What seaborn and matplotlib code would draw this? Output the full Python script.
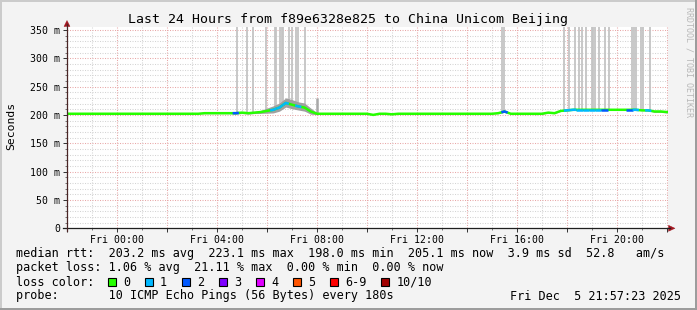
import numpy as np
import matplotlib
matplotlib.use("Agg")
import matplotlib.pyplot as plt
import seaborn as sns
from matplotlib.patches import Polygon, Rectangle
from matplotlib.lines import Line2D
from matplotlib.ticker import MultipleLocator, FixedLocator, FixedFormatter

# ---------------- data ----------------
start_hour = -2.0          # hours relative to Fri 00:00
step_hours = 0.25          # 15 min samples

median_ms = [
    202, 202, 202, 202, 202, 202, 202, 202, 202, 202, 202,   # -2.0 .. 0.5
    202, 202, 202, 202, 202, 202, 202, 202, 202, 202, 202,   # 0.75 .. 3.25
    203, 203, 203, 203, 203, 203, 204, 203, 204, 205,        # 3.5 .. 5.75
    207, 209, 213, 221, 218, 215, 213, 206, 202,             # 6.0 .. 8.0
    202, 202, 202, 202, 202, 202, 202, 202, 200, 202, 202, 201,  # 8.25 .. 11.0
    202, 202, 202, 202, 202, 202, 202, 202, 202, 202, 202, 202,  # 11.25 .. 14.0
    202, 202, 202, 202, 203, 206, 202,                       # 14.25 .. 15.75
    202, 202, 202, 202, 202, 204, 203, 207,                  # 16.0 .. 17.75
    208, 209, 209, 209, 209, 209, 209, 209, 209,             # 18.0 .. 20.0
    209, 209, 209, 208, 208, 206, 206, 205,                  # 20.25 .. 22.0
]

loss_level = [
    0, 0, 0, 0, 0, 0, 0, 0, 0, 0, 0,
    0, 0, 0, 0, 0, 0, 0, 0, 0, 0, 0,
    0, 0, 0, 0, 0, 2, 0, 0, 0, 0,
    0, 1, 1, 1, 0, 1, 0, 0, 0,
    0, 0, 0, 0, 0, 0, 0, 0, 0, 0, 0, 0,
    0, 0, 0, 0, 0, 0, 0, 0, 0, 0, 0, 0,
    0, 0, 0, 0, 0, 2, 0,
    0, 0, 0, 0, 0, 0, 0, 0,
    1, 1, 1, 1, 1, 1, 2, 0, 0,
    0, 2, 1, 0, 1, 0, 0, 0,
]

smoke_spread_ms = [
    0, 0, 0, 0, 0, 0, 0, 0, 0, 0, 0,
    0, 0, 0, 0, 0, 0, 0, 0, 0, 0, 0,
    1, 1, 1, 1, 1, 2, 2, 2, 2, 3,
    5, 7, 8, 9, 9, 8, 8, 6, 2,
    0, 0, 0, 0, 0, 0, 0, 0, 0, 0, 0, 0,
    0, 0, 0, 0, 0, 0, 0, 0, 0, 0, 0, 0,
    0, 0, 0, 0, 1, 2, 0,
    0, 0, 1, 2, 1, 1, 1, 1,
    1, 1, 1, 1, 1, 1, 1, 1, 1,
    1, 1, 1, 1, 1, 2, 2, 2,
]

# times (h) where some pings went off the chart
spike_hours = [4.80, 5.20, 5.44, 5.96, 6.32, 6.36, 6.52, 6.58, 6.64, 6.88, 7.00,
               7.16, 7.22, 7.52,
               15.38, 15.46,
               17.86, 18.06, 18.30, 18.46, 18.60, 18.74, 18.98, 19.04, 19.10,
               19.26, 19.50, 19.66,
               20.60, 20.66, 20.74, 20.94, 21.04, 21.32]
short_spike_hours = [8.00]
short_spike_top_ms = [229]

loss_labels = ["0", "1", "2", "3", "4", "5", "6-9", "10/10"]
loss_colors = ["#26ff00", "#00b8ff", "#0059ff", "#7e00ff",
               "#e000ff", "#ff5500", "#ff0000", "#a10000"]

xtick_hours = [0, 4, 8, 12, 16, 20]
xtick_labels = ["Fri 00:00", "Fri 04:00", "Fri 08:00", "Fri 12:00", "Fri 16:00", "Fri 20:00"]
ytick_values = [0, 50, 100, 150, 200, 250, 300, 350]
ytick_labels = ["0", "50 m", "100 m", "150 m", "200 m", "250 m", "300 m", "350 m"]

rtt_avg, rtt_max, rtt_min, rtt_now, rtt_sd, am_s = 203.2, 223.1, 198.0, 205.1, 3.9, 52.8
loss_avg, loss_max, loss_min, loss_now = 1.06, 21.11, 0.00, 0.00

title = "Last 24 Hours from f89e6328e825 to China Unicom Beijing"
probe_text = "10 ICMP Echo Pings (56 Bytes) every 180s"
date_text = "Fri Dec  5 21:57:23 2025"

# ---------------- figure ----------------
W, H = 697, 310
MONO = "DejaVu Sans Mono"
plt.rcParams["font.family"] = [MONO]

fig = plt.figure(figsize=(W / 100, H / 100), dpi=100, facecolor="#f3f3f3")

def fx(x):
    return x / W

def fy(y):
    return 1 - y / H

ax_l, ax_r, ax_t, ax_b = 67, 668, 27, 228.3
ax = fig.add_axes([fx(ax_l), fy(ax_b), (ax_r - ax_l) / W, (ax_b - ax_t) / H])
ax.set_facecolor("white")

ymax = 355.0
xmin, xmax = -2.0, 22.04
ax.set_xlim(xmin, xmax)
ax.set_ylim(0, ymax)

hours = start_hour + step_hours * np.arange(len(median_ms))
median = np.array(median_ms, dtype=float)
spread = np.array(smoke_spread_ms, dtype=float)

# grid
dot = (0, (1, 1.4))
for v in range(10, 360, 10):
    if v % 50:
        ax.axhline(v, color="#d4d4d4", lw=0.75, ls=dot, zorder=0)
for v in range(50, 360, 50):
    ax.axhline(v, color="#e8a8a8", lw=0.75, ls=dot, zorder=0.5)
for h in range(-1, 23, 2):
    ax.axvline(h, color="#d4d4d4", lw=0.75, ls=dot, zorder=0)
for h in range(0, 23, 2):
    ax.axvline(h, color="#e8a8a8", lw=0.75, ls=dot, zorder=0.5)

# spikes
sp = np.array(spike_hours)
ax.vlines(sp, np.interp(sp, hours, median), ymax, color="#c4c4c4", lw=1.3, zorder=1)
ssp = np.array(short_spike_hours)
ax.vlines(ssp, np.interp(ssp, hours, median), short_spike_top_ms, color="#a8a8a8", lw=1.8, zorder=1)

# smoke
ax.fill_between(hours, median - spread * 0.8, median + spread, color="#a0a0a0", lw=0, zorder=2)

# median line
sns.lineplot(x=hours, y=median, color=loss_colors[0], lw=1.8, ax=ax, zorder=3, legend=False)
for i, lv in enumerate(loss_level):
    if lv > 0:
        xs = np.array([hours[i] - step_hours / 2, hours[i], hours[i] + step_hours / 2])
        ax.plot(xs, np.interp(xs, hours, median), color=loss_colors[lv], lw=1.8, zorder=4,
                solid_capstyle="butt")

# axes / ticks
for s in ["top", "right", "left", "bottom"]:
    ax.spines[s].set_visible(False)

ax.yaxis.set_major_locator(FixedLocator(ytick_values))
ax.yaxis.set_major_formatter(FixedFormatter(ytick_labels))
ax.yaxis.set_minor_locator(MultipleLocator(10))
xt_major = list(range(-2, 23, 2))
xt_lab = [xtick_labels[xtick_hours.index(h)] if h in xtick_hours else "" for h in xt_major]
ax.xaxis.set_major_locator(FixedLocator(xt_major))
ax.xaxis.set_major_formatter(FixedFormatter(xt_lab))
ax.xaxis.set_minor_locator(MultipleLocator(1))
ax.tick_params(axis="both", which="major", length=2.6, width=0.7, color="#303030",
               labelsize=7.1, pad=2.2)
ax.tick_params(axis="both", which="minor", length=1.4, width=0.6, color="#606060")
ax.tick_params(axis="x", which="major", pad=2.5)
ax.set_xlabel("")
ax.set_ylabel("")

# axis lines and arrows
fig.add_artist(Line2D([fx(63), fx(670)], [fy(ax_b), fy(ax_b)], color="#1f1f1f", lw=0.9))
fig.add_artist(Line2D([fx(ax_l), fx(ax_l)], [fy(ax_b + 3), fy(24)], color="#4a2525", lw=0.9))
arrow_c = "#a0141e"
fig.add_artist(Polygon([[fx(67), fy(20.5)], [fx(64), fy(26.5)], [fx(70), fy(26.5)]],
                       closed=True, fc=arrow_c, ec=arrow_c, lw=0.3))
fig.add_artist(Polygon([[fx(675), fy(ax_b)], [fx(668.5), fy(ax_b - 3)], [fx(668.5), fy(ax_b + 3)]],
                       closed=True, fc=arrow_c, ec=arrow_c, lw=0.3))

# title, labels, watermark
fig.text(fx(347.5), fy(19), title, ha="center", va="center", fontsize=9.5, color="black")
fig.text(fx(11), fy(126), "Seconds", rotation=90, ha="center", va="center", fontsize=8.2)
fig.text(fx(689), fy(62), "RRDTOOL / TOBI OETIKER", rotation=270, ha="center", va="center",
         fontsize=6.0, color="#b8b8b8")

# legend rows
LFS = 8.45
row1 = (f"median rtt:  {rtt_avg:.1f} ms avg  {rtt_max:.1f} ms max  {rtt_min:.1f} ms min  "
        f"{rtt_now:.1f} ms now  {rtt_sd:.1f} ms sd  {am_s:.1f}   am/s")
row2 = (f"packet loss: {loss_avg:.2f} % avg  {loss_max:.2f} % max  {loss_min:.2f} % min  "
        f"{loss_now:.2f} % now")
row4 = f"probe:       {probe_text}"
fig.text(fx(16), fy(257.5), row1, ha="left", va="baseline", fontsize=LFS)
fig.text(fx(16), fy(271.5), row2, ha="left", va="baseline", fontsize=LFS)
fig.text(fx(16), fy(285.5), "loss color:", ha="left", va="baseline", fontsize=LFS)
fig.text(fx(16), fy(299.5), row4, ha="left", va="baseline", fontsize=LFS)
fig.text(fx(681), fy(299.5), date_text, ha="right", va="baseline", fontsize=LFS)

bx = 108.0
char_w = 7.05
for lab, col in zip(loss_labels, loss_colors):
    fig.add_artist(Rectangle((fx(bx), fy(286)), 8 / W, 8 / H, transform=fig.transFigure,
                             fc=col, ec="black", lw=0.8))
    fig.text(fx(bx + 15), fy(285.5), lab, ha="left", va="baseline", fontsize=LFS)
    bx = bx + 15 + len(lab) * char_w + 15

# frame shading
fig.add_artist(Rectangle((0, 0), 1, 2 / H, transform=fig.transFigure, fc="#9c9c9c", ec="none"))
fig.add_artist(Rectangle((1 - 2 / W, 0), 2 / W, 1, transform=fig.transFigure, fc="#9c9c9c", ec="none"))
fig.add_artist(Rectangle((0, 1 - 2 / H), 1 - 2 / W, 2 / H, transform=fig.transFigure, fc="#cbcbcb", ec="none"))
fig.add_artist(Rectangle((0, 2 / H), 2 / W, 1 - 4 / H, transform=fig.transFigure, fc="#cbcbcb", ec="none"))

fig.savefig("out.png", dpi=100, facecolor=fig.get_facecolor())
